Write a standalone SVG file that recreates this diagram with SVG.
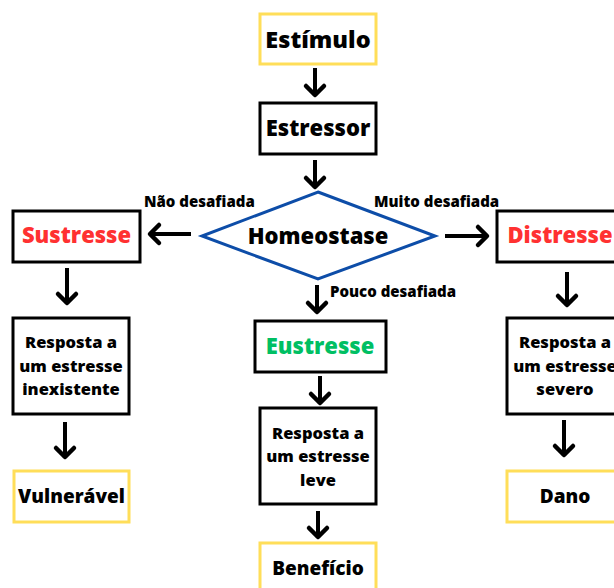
<svg xmlns="http://www.w3.org/2000/svg" width="614" height="588" viewBox="0 0 614 588">
<defs>
<style>
.box{fill:#fff;stroke:#000;stroke-width:3}
.yel{fill:#fff;stroke:#FFDE59;stroke-width:3}
text{font-family:"Open Sans","DejaVu Sans",sans-serif;font-weight:800;text-anchor:middle;fill:#000}
.t24{font-size:23.5px}
.t22{font-size:22px}
.t19{font-size:19px}
.t16{font-size:16.5px}
.lbl{font-size:15px;text-anchor:start}
.red{fill:#FF3131}
.grn{fill:#00BF63}
.arr{stroke:#000;stroke-width:4;fill:none;marker-end:url(#ah)}
</style>
<marker id="ah" markerUnits="userSpaceOnUse" viewBox="-14 -14 28 28" markerWidth="28" markerHeight="28" refX="0" refY="0" orient="auto">
<path d="M-9,-9 L0,0 L-9,9" fill="none" stroke="#000" stroke-width="4.5" stroke-linecap="round" stroke-linejoin="round"/>
</marker>
</defs>
<rect width="614" height="588" fill="#fff"/>
<g id="connectors">
<path class="arr" d="M315,68 V95"/>
<path class="arr" d="M315,160 V187"/>
<path class="arr" d="M191,234 H150"/>
<path class="arr" d="M445,236 H487"/>
<path class="arr" d="M67,268 V303"/>
<path class="arr" d="M317,285 V312"/>
<path class="arr" d="M567,272 V305"/>
<path class="arr" d="M320,376 V403"/>
<path class="arr" d="M65,422 V457"/>
<path class="arr" d="M318,511 V537"/>
<path class="arr" d="M564,420 V455"/>
</g>
<g id="labels">
<text class="lbl" x="144" y="207">Não desafiada</text>
<text class="lbl" x="374" y="207">Muito desafiada</text>
<text class="lbl" x="330" y="297">Pouco desafiada</text>
</g>
<g id="estimulo"><rect class="yel" x="260" y="14" width="116" height="50"/><text class="t24" x="318" y="48">Estímulo</text></g>
<g id="estressor"><rect class="box" x="260" y="103" width="116" height="51"/><text class="t22" x="318" y="136">Estressor</text></g>
<g id="homeostase"><polygon points="318,192 435,236 318,279 202,236" fill="#fff" stroke="#0D4DA8" stroke-width="3"/><text class="t22" x="318" y="244">Homeostase</text></g>
<g id="sustresse"><rect class="box" x="13" y="211" width="127" height="51"/><text class="t22 red" x="76.5" y="243">Sustresse</text></g>
<g id="distresse"><rect class="box" x="497" y="211" width="130" height="51"/><text class="t22 red" x="560" y="243">Distresse</text></g>
<g id="resposta-inexistente"><rect class="box" x="13" y="318" width="116" height="96"/>
<text class="t16" x="71" y="348">Resposta a</text><text class="t16" x="71" y="372">um estresse</text><text class="t16" x="71" y="395">inexistente</text></g>
<g id="eustresse"><rect class="box" x="255" y="321" width="131" height="51"/><text class="t22 grn" x="320" y="354">Eustresse</text></g>
<g id="resposta-leve"><rect class="box" x="260" y="408" width="116" height="96"/>
<text class="t16" x="318" y="439">Resposta a</text><text class="t16" x="318" y="462">um estresse</text><text class="t16" x="318" y="486">leve</text></g>
<g id="resposta-severo"><rect class="box" x="507" y="318" width="130" height="96"/>
<text class="t16" x="565" y="348">Resposta a</text><text class="t16" x="565" y="372">um estresse</text><text class="t16" x="565" y="395">severo</text></g>
<g id="vulneravel"><rect class="yel" x="14" y="471" width="115" height="51"/><text class="t19" x="71.5" y="503">Vulnerável</text></g>
<g id="beneficio"><rect class="yel" x="260" y="543" width="116" height="60"/><text class="t19" x="318" y="575">Benefício</text></g>
<g id="dano"><rect class="yel" x="507" y="471" width="130" height="51"/><text class="t19" x="565" y="503">Dano</text></g>
</svg>
